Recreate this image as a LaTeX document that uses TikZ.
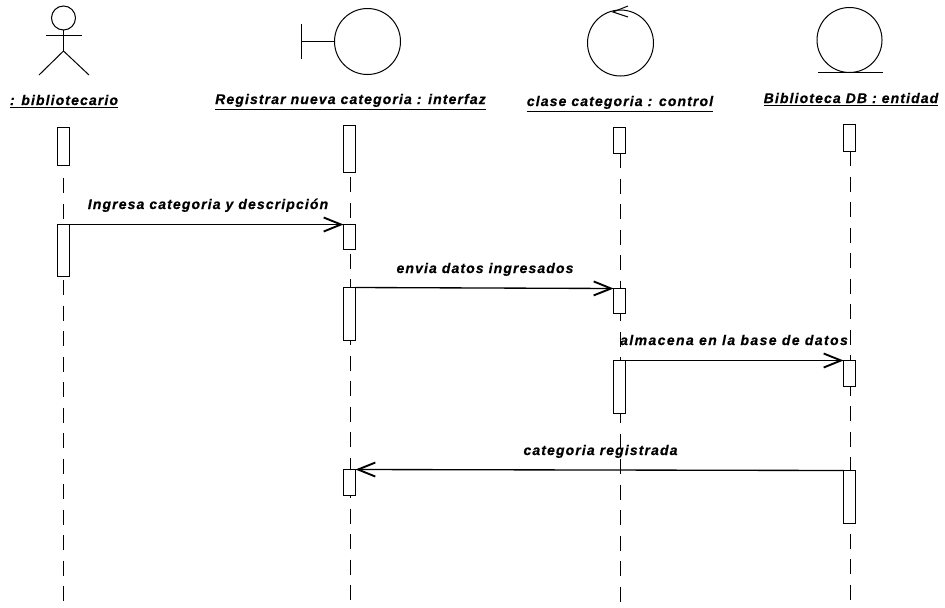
\documentclass[tikz,border=0pt]{standalone}
\usepackage{fontspec}
\usetikzlibrary{arrows.meta}
\newfontfamily\lblfont[LetterSpace=8,WordSpace=1.0,BoldItalicFeatures={FakeBold=0.5}]{Liberation Sans}
\def\px{0.75pt}
\tikzset{
  x=0.75pt,y=-0.75pt,
  every path/.style={line width=0.75pt,black},
  lifeline/.style={line width=0.75pt,dash pattern=on 11.25pt off 7.875pt},
  bar/.style={draw,fill=white,inner sep=0pt,outer sep=0pt,anchor=north west,minimum width=12*\px},
  obj/.style={font=\lblfont\fontsize{10.5pt}{12pt}\selectfont\bfseries\itshape,inner sep=0pt,anchor=base},
  msg/.style={font=\lblfont\fontsize{10.5pt}{12pt}\selectfont\bfseries\itshape,inner sep=0pt,anchor=base},
  call/.style={-{Straight Barb[length=13pt,width=10.5pt,line width=1.4pt]},line width=1pt},
  sym/.style={draw,circle,inner sep=0pt,outer sep=0pt},
}
\begin{document}
\begin{tikzpicture}
\useasboundingbox (0,0) rectangle (945,607);
\fill[white] (0,0) rectangle (945,607);
% lifeline ends
\coordinate (la) at (63.5,178); \coordinate (lae) at (63.5,604);
\coordinate (lb) at (350.5,177); \coordinate (lbe) at (350.5,604);
\coordinate (lc) at (620.5,153); \coordinate (lce) at (620.5,604);
\coordinate (ld) at (850.5,151); \coordinate (lde) at (850.5,604);
\draw[lifeline] (la)--(lae);
\draw[lifeline] (lb)--(lbe);
\draw[lifeline] (lc)--(lce);
\draw[lifeline] (ld)--(lde);
% actor
\node[sym,minimum size=24*\px] (head) at (63.5,18) {};
\coordinate (shl) at (46,35.5); \coordinate (shr) at (82,35.5);
\coordinate (hip) at (63.5,51); \coordinate (ftl) at (39,75); \coordinate (ftr) at (89,75);
\draw (head.south)--(hip);
\draw (shl)--(shr);
\draw (ftl)--(hip)--(ftr);
% boundary
\node[sym,minimum size=66*\px] (bnd) at (367.5,41.5) {};
\coordinate (bt) at (301.5,24); \coordinate (bb) at (301.5,59); \coordinate (bm) at (301.5,41.5);
\draw (bt)--(bb);
\draw (bm)--(bnd.west);
% control
\node[sym,minimum size=66*\px] (ctl) at (620.5,43) {};
\coordinate (c1) at (628,6); \coordinate (c2) at (613,12); \coordinate (c3) at (628,17);
\draw (c1)--(c2)--(c3);
% entity
\node[sym,minimum size=65*\px] (ent) at (849.5,40) {};
\coordinate (e1) at (818,72.5); \coordinate (e2) at (883,72.5);
\draw (e1)--(e2);
% object labels
\node[obj] (ta) at (64,105) {\underline{: bibliotecario}};
\node[obj] (tb) at (350.5,104) {\underline{Registrar nueva categoria : interfaz}};
\node[obj] (tc) at (620,106) {\underline{clase categoria : control}};
\node[obj] (td) at (851,103) {\underline{Biblioteca DB : entidad}};
% activation bars
\node[bar,minimum height=38*\px] (a1) at (57.5,127.5) {};
\node[bar,minimum height=52*\px] (a2) at (57.5,224.5) {};
\node[bar,minimum height=47*\px] (b1) at (343.5,125.5) {};
\node[bar,minimum height=25*\px] (b2) at (343.5,224.5) {};
\node[bar,minimum height=53*\px] (b3) at (343.5,287.5) {};
\node[bar,minimum height=26*\px] (b4) at (343.5,469.5) {};
\node[bar,minimum height=26*\px] (c1b) at (613.5,127.5) {};
\node[bar,minimum height=25*\px] (c2b) at (613.5,288.5) {};
\node[bar,minimum height=53*\px] (c3b) at (613.5,360.5) {};
\node[bar,minimum height=27*\px] (d1) at (843.5,124.5) {};
\node[bar,minimum height=26*\px] (d2) at (843.5,360.5) {};
\node[bar,minimum height=53*\px] (d3) at (843.5,470.5) {};
% messages
\draw[call] (a2.north east)--(b2.north west);
\draw[call] (b3.north east)--(c2b.north west);
\draw[call] (c3b.north east)--(d2.north west);
\draw[call] (d3.north west)--(b4.north east);
\node[msg] (m1) at (208,209) {Ingresa categoria y descripción};
\node[msg] (m2) at (485,273) {envia datos ingresados};
\node[msg] (m3) at (734,345) {\addfontfeature{LetterSpace=10}almacena en la base de datos};
\node[msg] (m4) at (600.5,455) {categoria registrada};
\end{tikzpicture}
\end{document}
